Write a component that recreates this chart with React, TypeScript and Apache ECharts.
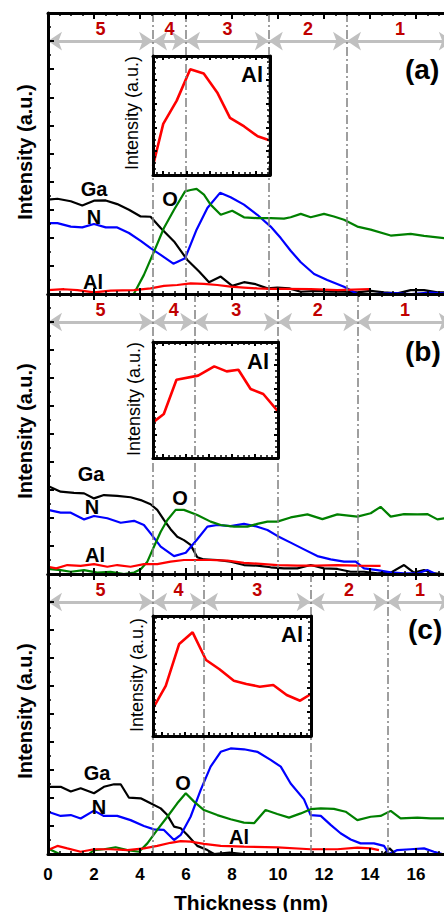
import React, { useEffect, useRef } from "react";
import * as echarts from "echarts";

const FONT = "Liberation Sans, Arial, sans-serif";

// ---------- data (thickness nm, intensity a.u.) ----------
const gaA = [[0,3.36],[0.41,3.39],[0.99,3.30],[1.49,3.15],[2.0,3.32],[2.51,3.33],[3.01,3.20],[3.52,3.0],[4.03,2.76],[4.46,2.75],[4.90,2.35],[5.48,1.87],[6.06,1.21],[6.57,0.80],[7.0,0.42],[7.51,0.62],[8.01,0.29],[8.52,0.42],[9.03,0.35],[9.54,0.20],[9.97,0.23],[10.48,0.20],[10.99,0.08],[11.71,0.11],[12.29,0.08],[12.87,0.08],[13.45,0.06],[14.03,0.11],[14.61,0.06],[15.19,0.02],[15.77,0.14],[16.35,0.14],[16.93,0.06],[17.6,0.05]];
const nA = [[0,2.52],[0.41,2.52],[0.99,2.40],[1.49,2.37],[2.0,2.49],[2.51,2.37],[3.01,2.37],[3.52,2.17],[4.03,1.89],[4.46,1.63],[4.90,1.39],[5.45,1.08],[5.96,1.27],[6.46,2.29],[6.93,3.06],[7.48,3.60],[7.94,3.44],[8.52,3.18],[9.10,2.82],[9.68,2.40],[10.12,1.99],[10.55,1.54],[10.99,1.13],[11.57,0.71],[12.14,0.50],[12.87,0.26],[13.45,0.0],[14.2,0.0],[15.0,0.03],[15.8,0.0],[16.6,0.05],[17.6,0.0]];
const oA = [[3.74,0.02],[4.17,0.68],[4.61,1.51],[5.04,2.35],[5.48,3.0],[5.96,3.65],[6.20,3.70],[6.46,3.74],[6.78,3.54],[7.07,3.18],[7.51,2.82],[8.01,2.96],[8.52,2.73],[9.10,2.70],[9.68,2.70],[10.26,2.68],[10.55,2.73],[10.99,2.85],[11.42,2.73],[12.0,2.85],[12.43,2.76],[12.87,2.64],[13.45,2.40],[14.03,2.29],[14.9,2.08],[15.77,2.14],[16.35,2.07],[17.22,1.99],[17.6,1.97]];
const alA = [[0,0.14],[0.70,0.17],[1.28,0.14],[2.0,0.06],[2.72,0.12],[3.74,0.14],[4.46,0.20],[5.04,0.29],[5.62,0.32],[6.20,0.38],[6.78,0.36],[7.36,0.32],[7.94,0.26],[8.52,0.23],[9.10,0.20],[9.68,0.18],[10.26,0.18],[11.42,0.17],[12.58,0.14],[14.0,0.17]];

const gaB = [[0,3.14],[0.55,2.94],[1.13,2.90],[1.57,2.88],[2.0,2.70],[2.43,2.82],[3.01,2.79],[3.59,2.74],[4.03,2.64],[4.46,2.49],[4.75,2.29],[5.04,1.93],[5.33,1.60],[5.62,1.33],[5.91,1.21],[6.20,1.04],[6.49,0.60],[6.78,0.52],[7.36,0.50],[7.94,0.44],[8.52,0.32],[9.10,0.30],[9.68,0.24],[10.26,0.20],[10.84,0.20],[11.42,0.32],[12.0,0.20],[12.58,0.18],[13.16,0.08],[13.74,0.08],[14.32,0.02],[14.9,0.05],[15.48,0.32],[15.91,0.05],[16.35,0.14],[16.78,0.02],[17.22,0.0],[17.6,0.0]];
const nB = [[0,2.29],[0.55,2.19],[0.99,2.19],[1.57,1.95],[2.0,2.07],[2.58,1.99],[3.16,1.83],[3.74,1.90],[4.17,1.75],[4.46,1.45],[4.90,0.98],[5.48,0.64],[5.99,0.76],[6.49,1.24],[6.93,1.69],[7.36,1.75],[7.94,1.71],[8.52,1.79],[9.10,1.69],[9.54,1.57],[9.97,1.36],[10.55,1.12],[11.13,0.88],[11.71,0.64],[12.29,0.52],[12.87,0.44],[13.38,0.44],[13.74,0.20],[14.32,0.14],[14.9,0.06],[15.48,0.02],[16.06,0.02],[16.49,0.14],[16.86,0.0],[17.6,0.0]];
const oB = [[0,0.18],[0.55,0.14],[0.99,0.08],[1.57,0.14],[2.14,0.05],[2.72,0.08],[3.30,0.0],[3.74,0.05],[4.03,0.17],[4.32,0.44],[4.61,0.98],[4.90,1.51],[5.19,1.93],[5.55,2.29],[5.91,2.29],[6.49,2.11],[7.07,1.87],[7.51,1.75],[8.09,1.69],[8.67,1.69],[9.10,1.79],[9.54,1.87],[9.97,1.87],[10.55,2.02],[11.28,2.13],[11.93,1.96],[12.58,2.13],[13.45,2.05],[14.03,2.17],[14.46,2.40],[14.9,2.05],[15.48,2.14],[16.06,2.13],[16.49,2.14],[16.93,1.95],[17.22,1.99],[17.6,1.99]];
const alB = [[0,0.26],[0.36,0.20],[0.84,0.32],[1.42,0.29],[2.0,0.35],[2.58,0.26],[3.01,0.32],[3.59,0.26],[4.17,0.35],[4.75,0.35],[5.33,0.44],[5.91,0.50],[6.49,0.50],[7.07,0.50],[7.80,0.48],[8.52,0.40],[9.25,0.36],[9.97,0.32],[10.84,0.30],[11.71,0.30],[12.58,0.32],[13.45,0.30],[14.32,0.29],[14.46,0.29]];

const gaC = [[0,2.40],[0.55,2.40],[0.99,2.23],[1.42,2.35],[2.0,2.17],[2.43,2.40],[2.87,2.49],[3.16,2.49],[3.52,2.01],[4.03,1.99],[4.46,1.81],[4.90,1.63],[5.19,1.39],[5.48,0.98],[5.77,0.92],[6.06,0.68],[6.49,0.29],[6.93,0.14],[7.22,0],[7.9,0.05],[8.5,0],[14.6,0],[14.85,0.2],[15.1,0],[17.6,0]];
const nC = [[0,1.51],[0.55,1.36],[0.99,1.39],[1.42,1.27],[2.0,1.55],[2.43,1.36],[3.01,1.36],[3.59,1.21],[4.17,1.0],[4.61,0.88],[5.04,0.86],[5.48,0.50],[5.77,0.68],[6.20,1.33],[6.64,2.29],[7.07,3.12],[7.51,3.65],[7.94,3.77],[8.52,3.74],[9.10,3.65],[9.68,3.36],[10.12,3.12],[10.55,2.52],[11.13,1.95],[11.42,1.39],[11.86,1.36],[12.29,1.04],[12.72,0.74],[13.16,0.52],[13.59,0.38],[14.17,0.38],[14.61,0.29],[14.83,0],[15.19,0.14],[15.77,0.17],[16.35,0.20],[16.78,0.08],[17.14,0],[17.6,0]];
const oC = [[0,0.20],[0.5,0],[1.78,0],[2.0,0.14],[2.43,0.17],[2.94,0.24],[3.45,0.14],[3.96,0.08],[4.32,0.38],[4.75,0.86],[5.19,1.33],[5.62,1.81],[5.99,2.17],[6.35,1.87],[6.78,1.57],[7.36,1.39],[7.94,1.24],[8.52,1.12],[8.96,1.10],[9.46,1.57],[9.97,1.43],[10.48,1.30],[10.99,1.45],[11.42,1.60],[11.86,1.63],[12.43,1.61],[12.94,1.51],[13.45,1.21],[14.03,1.33],[14.46,1.36],[14.9,1.54],[15.33,1.27],[16.06,1.30],[16.64,1.27],[17.22,1.27],[17.6,1.27]];
const alC = [[0,0.14],[0.41,0.29],[0.84,0.20],[1.42,0.08],[2.0,0.17],[2.72,0.17],[3.45,0.14],[4.17,0.20],[4.75,0.29],[5.33,0.40],[5.77,0.46],[6.20,0.44],[6.78,0.36],[7.51,0.29],[8.52,0.26],[9.97,0.24],[11.42,0.17],[12.58,0.17],[13.45,0.23],[14.03,0.20],[14.39,0.14]];

// insets: Al signal (normalised)
const insetAlA = [[4.57,0.078],[5.01,0.43],[5.59,0.625],[6.17,0.889],[6.75,0.853],[7.33,0.694],[7.88,0.48],[8.49,0.408],[9.07,0.325],[9.6,0.29]];
const insetAlB = [[4.57,0.307],[5.04,0.379],[5.59,0.675],[6.53,0.71],[7.23,0.79],[7.77,0.747],[8.28,0.761],[8.81,0.595],[9.36,0.552],[10.0,0.402]];
const insetAlC = [[4.61,0.23],[5.16,0.417],[5.74,0.767],[6.32,0.864],[6.90,0.633],[7.48,0.556],[8.10,0.461],[8.64,0.433],[9.22,0.411],[9.80,0.425],[10.38,0.342],[10.96,0.294],[11.43,0.35]];

// region boundaries (nm) and labels
const boundsA = [0, 4.57, 6.0, 9.6, 13.0, 17.6];
const boundsB = [0, 4.57, 6.36, 10.0, 13.45, 17.6];
const boundsC = [0, 4.57, 6.78, 11.42, 14.75, 17.6];
const regionLabels = ["5", "4", "3", "2", "1"];
const xTickMax = 18;
const yTickMax = 10;

// ---------- layout ----------
const CHART_W = 480; // wider than the window: the plot runs past the right edge
const mainGrids = [
  { left: 48, top: 13, right: 18, height: 281 },
  { left: 48, top: 294, right: 18, height: 280 },
  { left: 48, top: 574, right: 18, height: 280 },
];
const insetGrids = [
  { left: 153, top: 56, width: 117, height: 119 },
  { left: 153, top: 342, width: 125, height: 116 },
  { left: 153, top: 616, width: 158, height: 120 },
];
const ARROW_Y = 9.0;

const mainX = (i: number, pos: string, showLabel: boolean) => ({
  type: "value", gridIndex: i, position: pos, min: 0, max: xTickMax, interval: 2, z: 5,
  axisLine: { show: true, onZero: false, lineStyle: { color: "#000", width: 3 } },
  axisTick: { show: true, inside: true, length: 6, lineStyle: { color: "#000", width: 2 } },
  minorTick: { show: true, splitNumber: 4, length: 3, lineStyle: { color: "#000", width: 1.5 } },
  splitLine: { show: false },
  axisLabel: { show: showLabel, showMaxLabel: false, color: "#000", fontSize: 17, fontWeight: "bold", fontFamily: FONT, margin: 12 },
});
const mainY = (i: number) => ({
  type: "value", gridIndex: i, position: "left", min: 0, max: yTickMax, interval: 1, z: 5,
  axisLine: { show: true, onZero: false, lineStyle: { color: "#000", width: 3 } },
  axisTick: { show: true, inside: true, length: 6, lineStyle: { color: "#000", width: 2 } },
  minorTick: { show: true, splitNumber: 2, length: 3, lineStyle: { color: "#000", width: 1.5 } },
  splitLine: { show: false },
  axisLabel: { show: false },
});
const insetX = (i: number, pos: string, data: number[][]) => ({
  type: "value", gridIndex: 3 + i, position: pos, min: data[0][0], max: data[data.length - 1][0], z: 5,
  axisLine: { show: true, onZero: false, lineStyle: { color: "#000", width: 3 } },
  axisTick: { show: true, inside: true, length: 4, lineStyle: { color: "#000", width: 2 } },
  minorTick: { show: true, splitNumber: 4, length: 3, lineStyle: { color: "#000", width: 1.5 } },
  splitLine: { show: false },
  axisLabel: { show: false },
});
const insetY = (i: number, pos: string) => ({
  type: "value", gridIndex: 3 + i, position: pos, min: 0, max: 1, interval: 0.2, z: 5,
  axisLine: { show: true, onZero: false, lineStyle: { color: "#000", width: 3 } },
  axisTick: { show: true, inside: true, length: 4, lineStyle: { color: "#000", width: 2 } },
  minorTick: { show: true, splitNumber: 4, length: 3, lineStyle: { color: "#000", width: 1.5 } },
  splitLine: { show: false },
  axisLabel: { show: false },
});

const line = (data: number[][], color: string, xi: number, yi: number, width = 2.2, extra: any = {}) => ({
  type: "line", xAxisIndex: xi, yAxisIndex: yi, data, showSymbol: false, symbol: "none",
  lineStyle: { color, width }, itemStyle: { color }, silent: true, animation: false, z: 2, ...extra,
});

const boundaryMark = (bounds: number[]) => ({
  markLine: {
    silent: true, animation: false, symbol: ["none", "none"], label: { show: false },
    lineStyle: { color: "#808080", width: 1.5, type: [9, 3, 2, 3] },
    data: bounds.slice(1, 5).map((v) => ({ xAxis: v })),
  },
});
const arrowMark = (bounds: number[]) => ({
  markLine: {
    silent: true, animation: false, symbol: ["arrow", "arrow"], symbolSize: 14,
    lineStyle: { color: "#c0c0c0", width: 3, type: "solid" },
    itemStyle: { color: "#c0c0c0" },
    label: { show: true, position: "insideMiddleTop", formatter: "{b}", color: "#c00000", fontSize: 18, fontWeight: "bold", fontFamily: FONT, distance: 3 },
    data: regionLabels.map((lab, k) => [
      { name: lab, coord: [bounds[k], ARROW_Y] },
      { coord: [bounds[k + 1], ARROW_Y] },
    ]),
  },
});

const txt = (text: string, x: number, y: number, size: number, extra: any = {}) => ({
  type: "text", x, y, z: 100, ...extra,
  style: { text, fill: "#000", fontSize: size, fontWeight: "bold", fontFamily: FONT, align: "center", verticalAlign: "middle", ...(extra.style || {}) },
});

export default function App() {
  const ref = useRef<HTMLDivElement>(null);
  useEffect(() => {
    if (!ref.current) return;
    const chart = echarts.init(ref.current, null, { renderer: "svg" });
    const mains = [
      { ga: gaA, n: nA, o: oA, al: alA, b: boundsA },
      { ga: gaB, n: nB, o: oB, al: alB, b: boundsB },
      { ga: gaC, n: nC, o: oC, al: alC, b: boundsC },
    ];
    const insets = [insetAlA, insetAlB, insetAlC];
    const series: any[] = [];
    mains.forEach((m, i) => {
      series.push(line(m.ga, "#000000", i, i, 2.2, arrowMark(m.b)));
      series.push(line(m.n, "#0000ff", i, i));
      series.push(line(m.o, "#008000", i, i));
      series.push(line(m.al, "#ff0000", i, i, 2.2, boundaryMark(m.b)));
    });
    insets.forEach((d, i) => {
      series.push(line(d, "#ff0000", 6 + i, 3 + i, 2.6));
    });

    const graphic: any[] = [
      txt("Intensity (a.u.)", 25, 152, 20, { rotation: Math.PI / 2 }),
      txt("Intensity (a.u.)", 25, 431, 20, { rotation: Math.PI / 2 }),
      txt("Intensity (a.u.)", 25, 711, 20, { rotation: Math.PI / 2 }),
      txt("Intensity (a.u.)", 132, 113, 18, { rotation: Math.PI / 2, style: { fontWeight: "normal" } }),
      txt("Intensity (a.u.)", 134, 399, 18, { rotation: Math.PI / 2, style: { fontWeight: "normal" } }),
      txt("Intensity (a.u.)", 137, 675, 18, { rotation: Math.PI / 2, style: { fontWeight: "normal" } }),
      txt("Thickness (nm)", 251, 902, 21),
      txt("(a)", 405, 69, 28, { style: { align: "left" } }),
      txt("(b)", 405, 351, 28, { style: { align: "left" } }),
      txt("(c)", 408, 629, 28, { style: { align: "left" } }),
      txt("Al", 252, 74, 22),
      txt("Al", 258, 361, 22),
      txt("Al", 292, 634, 22),
      txt("Ga", 94, 189, 20), txt("N", 94, 217, 20), txt("O", 170, 199, 20), txt("Al", 93, 282, 20),
      txt("Ga", 91, 474, 20), txt("N", 92, 507, 20), txt("O", 180, 498, 20), txt("Al", 95, 555, 20),
      txt("Ga", 97, 773, 20), txt("N", 99, 807, 20), txt("O", 183, 783, 20), txt("Al", 239, 837, 20),
    ];

    chart.setOption({
      animation: false,
      backgroundColor: "#fff",
      textStyle: { fontFamily: FONT },
      grid: [...mainGrids, ...insetGrids].map((g) => ({ ...g, containLabel: false })),
      xAxis: [
        mainX(0, "bottom", false), mainX(1, "bottom", false), mainX(2, "bottom", true),
        mainX(0, "top", false), mainX(1, "top", false), mainX(2, "top", false),
        insetX(0, "bottom", insetAlA), insetX(1, "bottom", insetAlB), insetX(2, "bottom", insetAlC),
        insetX(0, "top", insetAlA), insetX(1, "top", insetAlB), insetX(2, "top", insetAlC),
      ],
      yAxis: [
        mainY(0), mainY(1), mainY(2),
        insetY(0, "left"), insetY(1, "left"), insetY(2, "left"),
        insetY(0, "right"), insetY(1, "right"), insetY(2, "right"),
      ],
      series,
      graphic,
    });
    return () => chart.dispose();
  }, []);
  return (
    <div style={{ position: "fixed", left: 0, top: 0, width: 444, height: 912, overflow: "hidden", background: "#fff" }}>
      <div ref={ref} style={{ width: CHART_W, height: 912 }} />
    </div>
  );
}
